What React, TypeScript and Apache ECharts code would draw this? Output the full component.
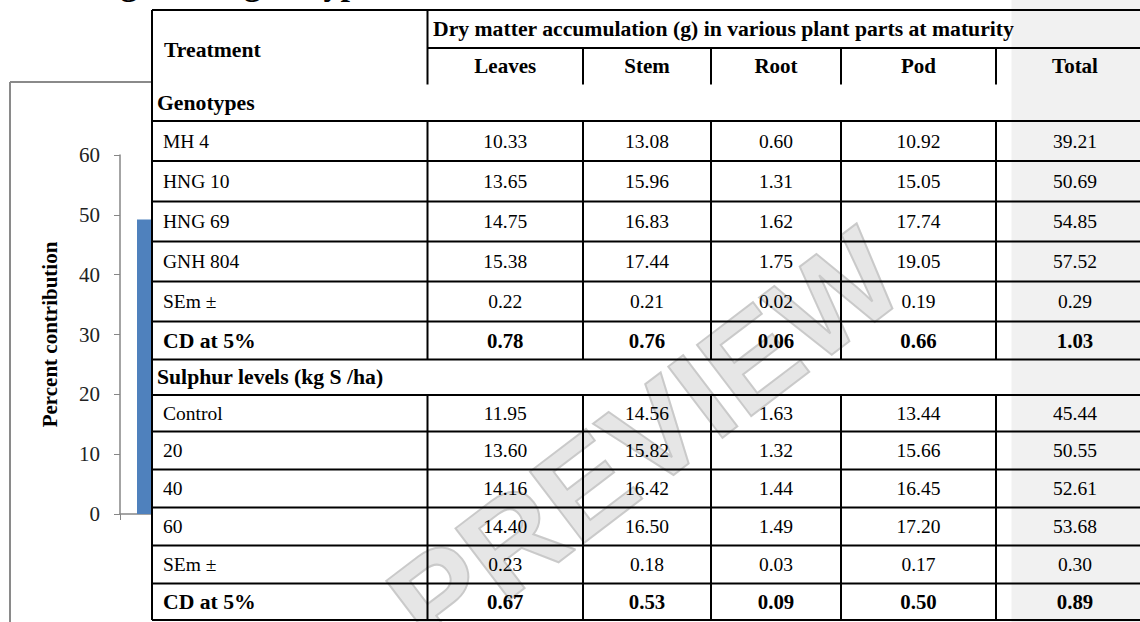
import React, { useEffect, useRef } from "react";
import * as echarts from "echarts";

// ---------- Chart data (partly hidden bar chart) ----------
const barCategories = ["Leaves"];
const barValues = [49.2];
const yAxisName = "Percent contribution";

// ---------- Table data ----------
const tableTitle = "Dry matter accumulation (g) in various plant parts at maturity";
const treatmentHeader = "Treatment";
const partNames = ["Leaves", "Stem", "Root", "Pod", "Total"];

const genotypeHeader = "Genotypes";
const genotypeNames = ["MH 4", "HNG 10", "HNG 69", "GNH 804"];
const genoLeaves = [10.33, 13.65, 14.75, 15.38];
const genoStem = [13.08, 15.96, 16.83, 17.44];
const genoRoot = [0.6, 1.31, 1.62, 1.75];
const genoPod = [10.92, 15.05, 17.74, 19.05];
const genoTotal = [39.21, 50.69, 54.85, 57.52];
const genoSEm = [0.22, 0.21, 0.02, 0.19, 0.29];
const genoCD = [0.78, 0.76, 0.06, 0.66, 1.03];

const sulphurHeader = "Sulphur levels (kg S /ha)";
const sulphurNames = ["Control", "20", "40", "60"];
const sulLeaves = [11.95, 13.6, 14.16, 14.4];
const sulStem = [14.56, 15.82, 16.42, 16.5];
const sulRoot = [1.63, 1.32, 1.44, 1.49];
const sulPod = [13.44, 15.66, 16.45, 17.2];
const sulTotal = [45.44, 50.55, 52.61, 53.68];
const sulSEm = [0.23, 0.18, 0.03, 0.17, 0.3];
const sulCD = [0.67, 0.53, 0.09, 0.5, 0.89];

const semLabel = "SEm \u00b1";
const cdLabel = "CD at 5%";
const captionText = "Variation among all the genotypes";
const watermarkText = "PREVIEW";

// ---------- Layout (positions only) ----------
const colX = [152, 427.5, 583, 711, 841, 996, 1154];
const rowY = [10, 48, 84.5, 121, 161, 201.5, 241.5, 281.5, 321.5, 359.5, 395, 431.5, 469.5, 507.5, 545.5, 583.5, 620];
const shadeX = 1011.5;
const SERIF = '"Times New Roman", "Liberation Serif", serif';
const BOLD_LABEL = 21.7;
const BOLD_PART = 21;
const BOLD_VALUE = 20.8;
const REG = 19.5;

type Row = { label: string; values: number[] | null; bold: boolean };

function buildRows(): Row[] {
  const rows: Row[] = [];
  rows.push({ label: genotypeHeader, values: null, bold: true });
  genotypeNames.forEach((n, i) =>
    rows.push({ label: n, values: [genoLeaves[i], genoStem[i], genoRoot[i], genoPod[i], genoTotal[i]], bold: false })
  );
  rows.push({ label: semLabel, values: genoSEm, bold: false });
  rows.push({ label: cdLabel, values: genoCD, bold: true });
  rows.push({ label: sulphurHeader, values: null, bold: true });
  sulphurNames.forEach((n, i) =>
    rows.push({ label: n, values: [sulLeaves[i], sulStem[i], sulRoot[i], sulPod[i], sulTotal[i]], bold: false })
  );
  rows.push({ label: semLabel, values: sulSEm, bold: false });
  rows.push({ label: cdLabel, values: sulCD, bold: true });
  return rows;
}

function font(size: number, bold: boolean) {
  return `${bold ? "bold " : ""}${size}px ${SERIF}`;
}

function txt(x: number, y: number, text: string, size: number, bold: boolean, align: string, z = 20): any {
  return {
    type: "text",
    x,
    y,
    z,
    silent: true,
    style: {
      text,
      fill: "#000",
      font: font(size, bold),
      align,
      verticalAlign: "middle",
      textAlign: align,
      textVerticalAlign: "middle",
    },
  };
}

function line(x1: number, y1: number, x2: number, y2: number, z = 15, stroke = "#000", w = 2): any {
  return { type: "line", z, silent: true, shape: { x1, y1, x2, y2 }, style: { stroke, lineWidth: w } };
}

function buildGraphics(): any[] {
  const g: any[] = [];
  const right = colX[colX.length - 1];
  // chart frame
  g.push(line(10, 82, 152, 82, 1, "#8a8a8a", 2));
  g.push(line(10, 82, 10, 640, 1, "#8a8a8a", 2));
  // page backgrounds over the chart
  g.push({ type: "rect", z: 10, silent: true, shape: { x: 152, y: 0, width: shadeX - 152, height: 622 }, style: { fill: "#fff" } });
  g.push({ type: "rect", z: 10, silent: true, shape: { x: shadeX, y: 0, width: 1140 - shadeX, height: 622 }, style: { fill: "#f1f1f1" } });
  // watermark
  g.push({
    type: "text",
    x: 645,
    y: 440,
    rotation: 0.65,
    z: 14,
    silent: true,
    style: {
      text: watermarkText,
      font: 'bold 130px "Liberation Sans", Arial, sans-serif',
      fill: "rgba(200,200,200,0.45)",
      stroke: "#cbcbcb",
      lineWidth: 2,
      align: "center",
      verticalAlign: "middle",
      textAlign: "center",
      textVerticalAlign: "middle",
    },
  });
  // caption (cut at top)
  g.push(txt(-106, -17, captionText, 34, true, "left", 20));

  // header
  g.push(line(colX[0], rowY[0], right, rowY[0]));
  g.push(line(colX[1], rowY[1], right, rowY[1]));
  g.push(line(colX[0], rowY[0], colX[0], rowY[rowY.length - 1]));
  g.push(line(colX[1], rowY[0], colX[1], rowY[2]));
  for (let c = 2; c <= 5; c++) g.push(line(colX[c], rowY[1], colX[c], rowY[2]));
  g.push(txt(164, 49.5, treatmentHeader, BOLD_LABEL, true, "left"));
  g.push(txt(433, (rowY[0] + rowY[1]) / 2, tableTitle, BOLD_LABEL, true, "left"));
  partNames.forEach((p, i) => {
    const cx = i < 4 ? (colX[i + 1] + colX[i + 2]) / 2 : 1075;
    g.push(txt(cx, (rowY[1] + rowY[2]) / 2, p, BOLD_PART, true, "center"));
  });

  // body
  const rows = buildRows();
  rows.forEach((r, i) => {
    const top = rowY[i + 2];
    const bot = rowY[i + 3];
    const cy = (top + bot) / 2;
    g.push(line(colX[0], bot, right, bot));
    if (r.values === null) {
      g.push(txt(157, cy, r.label, BOLD_LABEL, true, "left"));
    } else {
      for (let c = 1; c <= 5; c++) g.push(line(colX[c], top, colX[c], bot));
      g.push(txt(163, cy, r.label, r.bold ? BOLD_LABEL : REG, r.bold, "left"));
      r.values.forEach((v, k) => {
        const cx = k < 4 ? (colX[k + 1] + colX[k + 2]) / 2 : 1075;
        g.push(txt(cx, cy, v.toFixed(2), r.bold ? BOLD_VALUE : REG, r.bold, "center"));
      });
    }
  });
  return g;
}

export default function App() {
  const ref = useRef<HTMLDivElement>(null);
  useEffect(() => {
    if (!ref.current) return;
    const chart = echarts.init(ref.current, null, { renderer: "svg" });
    const axisGray = "#868686";
    chart.setOption({
      animation: false,
      backgroundColor: "#fff",
      grid: { left: 120, top: 155, width: 120, height: 359, containLabel: false },
      xAxis: {
        type: "category",
        data: barCategories,
        axisLine: { show: true, lineStyle: { color: axisGray, width: 1.5 } },
        axisTick: { show: true, length: 6, lineStyle: { color: axisGray } },
        axisLabel: { show: false },
      },
      yAxis: {
        type: "value",
        min: 0,
        max: 60,
        interval: 10,
        name: yAxisName,
        nameLocation: "middle",
        nameGap: 60,
        nameTextStyle: { fontFamily: SERIF, fontWeight: "bold", fontSize: 21, color: "#000" },
        axisLine: { show: true, lineStyle: { color: axisGray, width: 1.5 } },
        axisTick: { show: true, length: 6, lineStyle: { color: axisGray } },
        axisLabel: { margin: 20, fontFamily: SERIF, fontSize: 21, color: "#222" },
        splitLine: { show: false },
      },
      series: [
        {
          type: "bar",
          data: barValues,
          barWidth: 86,
          itemStyle: { color: "#4f81bd" },
        },
      ],
      graphic: buildGraphics(),
    });
    return () => chart.dispose();
  }, []);
  return (
    <div
      ref={ref}
      style={{ position: "fixed", left: 0, top: 0, width: 1140, height: 622, background: "#fff" }}
    />
  );
}
